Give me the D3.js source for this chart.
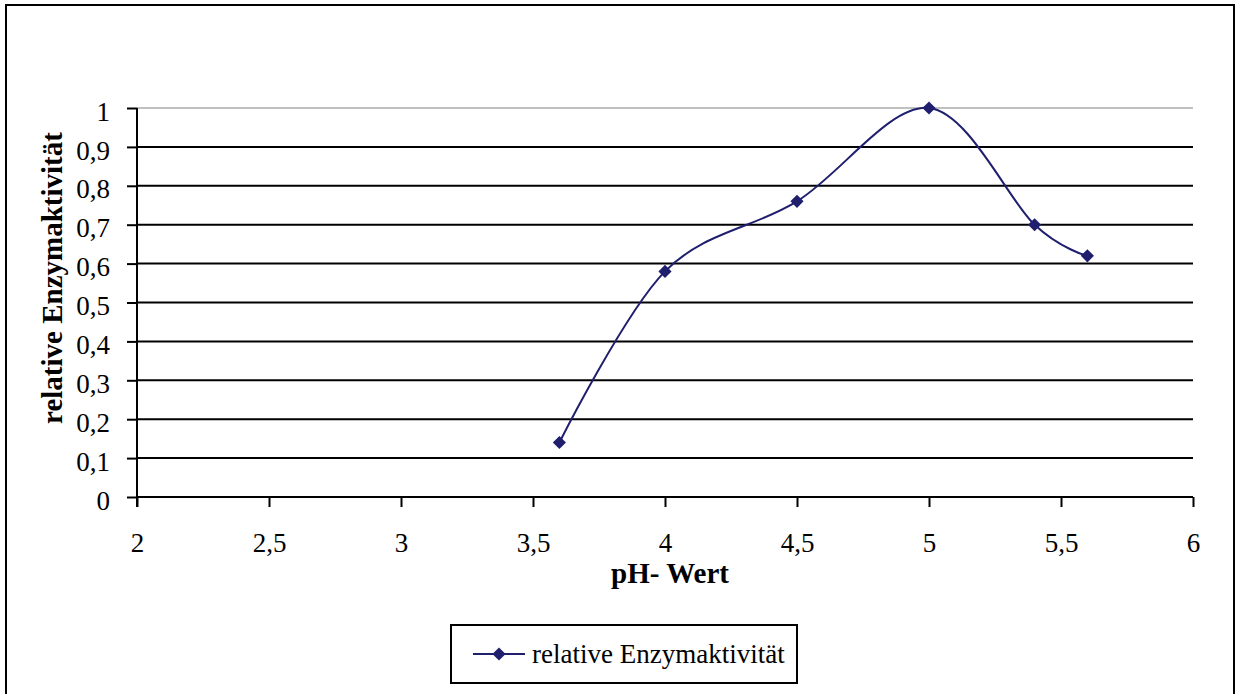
<!DOCTYPE html>
<html>
<head>
<meta charset="utf-8">
<script src="https://cdn.jsdelivr.net/npm/d3@7"></script>
<style>
  body { margin: 0; background: #fff; }
  text { font-family: "Liberation Serif", "Times New Roman", serif; fill: #000; }
</style>
</head>
<body>
<div id="chart-area"></div>
<script>
const W = 1236, H = 694
const MARGIN = { LEFT: 137, RIGHT: 43, TOP: 108, BOTTOM: 197 }
const WIDTH = W - MARGIN.LEFT - MARGIN.RIGHT
const HEIGHT = H - MARGIN.TOP - MARGIN.BOTTOM

// data
const phValues = [3.6, 4, 4.5, 5, 5.4, 5.6]
const activity = [0.14, 0.58, 0.76, 1.0, 0.70, 0.62]
const xTicks = [2, 2.5, 3, 3.5, 4, 4.5, 5, 5.5, 6]
const yTicks = [0, 0.1, 0.2, 0.3, 0.4, 0.5, 0.6, 0.7, 0.8, 0.9, 1]
const seriesName = "relative Enzymaktivität"
const xTitle = "pH- Wert"
const yTitle = "relative Enzymaktivität"

const lineColor = "#1f1f6e"
const fmt = d => String(d).replace(".", ",")

const root = d3.select("#chart-area").append("svg")
  .attr("width", W)
  .attr("height", H)

// outer chart border (bottom edge runs off the picture)
root.append("rect")
  .attr("x", 6).attr("y", 5)
  .attr("width", 1228).attr("height", 700)
  .attr("fill", "none")
  .attr("stroke", "#000")
  .attr("stroke-width", 2)

const svg = root.append("g")
  .attr("transform", `translate(${MARGIN.LEFT},${MARGIN.TOP})`)

const x = d3.scaleLinear().domain([2, 6]).range([0, WIDTH])
const y = d3.scaleLinear().domain([0, 1]).range([HEIGHT, 0])

// gridlines
svg.selectAll(".grid")
  .data(yTicks.filter(d => d > 0))
  .join("line")
  .attr("x1", 0).attr("x2", WIDTH)
  .attr("y1", d => y(d)).attr("y2", d => y(d))
  .attr("stroke", d => d === 1 ? "#c0c0c0" : "#000")
  .attr("stroke-width", 2)

// y axis
const yAxis = svg.append("g")
  .call(d3.axisLeft(y).tickValues(yTicks).tickFormat(fmt).tickSize(10).tickPadding(17))
yAxis.select(".domain").remove()
yAxis.selectAll(".tick line").attr("stroke", "#000").attr("stroke-width", 2)
yAxis.selectAll(".tick text")
  .attr("font-size", 27).attr("dy", "0.45em")
  .style("font-family", '"Liberation Serif", serif')
svg.append("line")
  .attr("x1", 0).attr("x2", 0)
  .attr("y1", 0).attr("y2", HEIGHT + 10)
  .attr("stroke", "#000").attr("stroke-width", 2)

// x axis
const xAxis = svg.append("g")
  .attr("transform", `translate(0,${HEIGHT})`)
  .call(d3.axisBottom(x).tickValues(xTicks).tickFormat(fmt).tickSize(10).tickPadding(26))
xAxis.select(".domain").remove()
xAxis.selectAll(".tick line").attr("stroke", "#000").attr("stroke-width", 2)
xAxis.selectAll(".tick text")
  .attr("font-size", 27)
  .style("font-family", '"Liberation Serif", serif')
svg.append("line")
  .attr("x1", 0).attr("x2", WIDTH)
  .attr("y1", HEIGHT).attr("y2", HEIGHT)
  .attr("stroke", "#000").attr("stroke-width", 2)

// axis titles
svg.append("text")
  .attr("x", 670 - MARGIN.LEFT)
  .attr("y", 583 - MARGIN.TOP)
  .attr("text-anchor", "middle")
  .attr("font-size", 29)
  .attr("font-weight", "bold")
  .text(xTitle)

svg.append("text")
  .attr("transform", `translate(${62 - MARGIN.LEFT},${278 - MARGIN.TOP}) rotate(-90)`)
  .attr("text-anchor", "middle")
  .attr("font-size", 29)
  .attr("font-weight", "bold")
  .text(yTitle)

// series
const pts = phValues.map((p, i) => [p, activity[i]])
const line = d3.line()
  .x(d => x(d[0]))
  .y(d => y(d[1]))
  .curve(d3.curveCardinal.tension(0))

svg.append("path")
  .datum(pts)
  .attr("d", line)
  .attr("fill", "none")
  .attr("stroke", lineColor)
  .attr("stroke-width", 2)

const diamond = d3.symbol().type(d3.symbolDiamond2).size(110)
svg.selectAll(".pt")
  .data(pts)
  .join("path")
  .attr("d", diamond)
  .attr("transform", d => `translate(${x(d[0])},${y(d[1])})`)
  .attr("fill", lineColor)

// legend
const legend = root.append("g")
root.append("rect")
  .attr("x", 451).attr("y", 625)
  .attr("width", 346).attr("height", 58)
  .attr("fill", "none")
  .attr("stroke", "#000")
  .attr("stroke-width", 2)
legend.append("line")
  .attr("x1", 473).attr("x2", 525)
  .attr("y1", 654).attr("y2", 654)
  .attr("stroke", lineColor).attr("stroke-width", 2)
legend.append("path")
  .attr("d", diamond)
  .attr("transform", "translate(499,654)")
  .attr("fill", lineColor)
legend.append("text")
  .attr("x", 532).attr("y", 663)
  .attr("font-size", 27)
  .text(seriesName)
</script>
</body>
</html>
